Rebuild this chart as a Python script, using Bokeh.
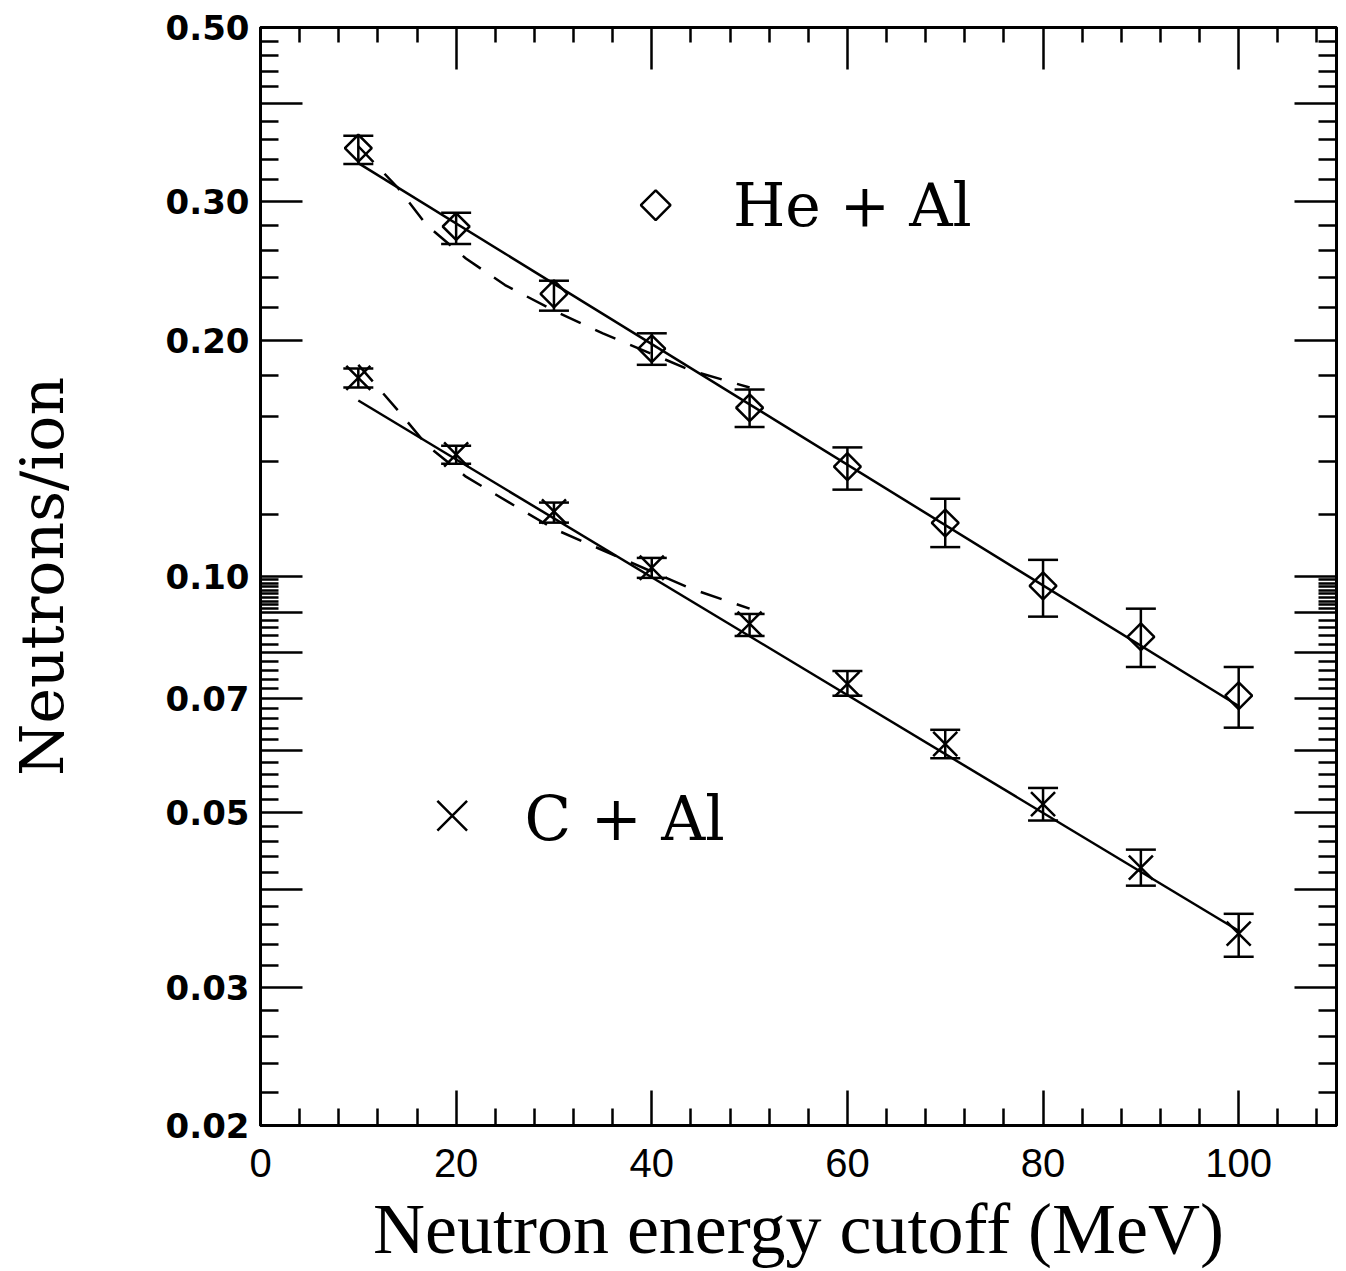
import numpy as np
from bokeh.plotting import figure
from bokeh.models import (FixedTicker, LinearAxis, LogAxis, Range1d, Whisker,
                          TeeHead, ColumnDataSource, Label)
from bokeh.embed import file_html
from bokeh.resources import INLINE

# ---------------- data ----------------
energy_cutoff = [10, 20, 30, 40, 50, 60, 70, 80, 90, 100]

he_al = [0.351, 0.279, 0.229, 0.195, 0.164, 0.138, 0.117, 0.0973, 0.0838, 0.0705]
he_al_hi = [0.364, 0.2905, 0.238, 0.204, 0.173, 0.146, 0.1256, 0.105, 0.091, 0.0767]
he_al_lo = [0.335, 0.265, 0.218, 0.186, 0.155, 0.129, 0.109, 0.0889, 0.0767, 0.0642]

c_al = [0.179, 0.143, 0.121, 0.1026, 0.0871, 0.073, 0.0612, 0.0513, 0.0426, 0.0351]
c_al_hi = [0.184, 0.1467, 0.1242, 0.1056, 0.0896, 0.0758, 0.0638, 0.0538, 0.0449, 0.0372]
c_al_lo = [0.174, 0.1392, 0.1171, 0.0996, 0.0840, 0.0705, 0.0587, 0.0489, 0.0404, 0.0328]

# exponential fits (solid lines)
fit_x = [10, 100]
he_fit = [0.336, 0.0684]
c_fit = [0.1675, 0.0354]

# model curves (dashed lines)
he_dash_x = [10, 14, 17, 21, 25, 30, 35, 44, 50]
he_dash_y = [0.353, 0.313, 0.280, 0.254, 0.235, 0.218, 0.204, 0.183, 0.174]
c_dash_x = [10, 14, 17, 21, 26, 30, 35, 44, 50]
c_dash_y = [0.186, 0.163, 0.147, 0.134, 0.123, 0.115, 0.108, 0.0965, 0.091]

# axis ticks
y_major = [0.02, 0.03, 0.04, 0.05, 0.06, 0.07, 0.08, 0.09, 0.1, 0.2, 0.3, 0.4, 0.5]
y_labels = {0.02: "0.02", 0.03: "0.03", 0.05: "0.05", 0.07: "0.07",
            0.1: "0.10", 0.2: "0.20", 0.3: "0.30", 0.5: "0.50"}
y_minor = ([0.022, 0.024, 0.026, 0.028, 0.032, 0.034, 0.036, 0.038,
            0.042, 0.044, 0.046, 0.048,
            0.052, 0.054, 0.056, 0.058, 0.062, 0.064, 0.066, 0.068,
            0.072, 0.074, 0.076, 0.078, 0.082, 0.084, 0.086, 0.088,
            0.091, 0.092, 0.093, 0.094, 0.095, 0.096, 0.097, 0.098, 0.099,
            0.12, 0.14, 0.16, 0.18, 0.22, 0.24, 0.26, 0.28,
            0.32, 0.34, 0.36, 0.38, 0.42, 0.44, 0.46, 0.48])
x_major = [0, 20, 40, 60, 80, 100]
x_minor = [4, 8, 12, 16, 24, 28, 32, 36, 44, 48, 52, 56, 64, 68, 72, 76,
           84, 88, 92, 96, 104, 108]

# legend placement (layout constants)
LEG_HE_MARK = (40.4, 0.297)
LEG_HE_TEXT = (48.3, 0.297)
LEG_C_MARK = (19.6, 0.0496)
LEG_C_TEXT = (27.0, 0.0492)

# ---------------- figure ----------------
p = figure(x_range=Range1d(0, 110), y_range=Range1d(0.02, 0.5),
           y_axis_type="log", frame_width=1076, frame_height=1098,
           min_border_left=260, min_border_top=27, min_border_bottom=130,
           min_border_right=2, output_backend="svg", toolbar_location=None)
p.grid.visible = False
p.outline_line_color = "black"
p.outline_line_width = 3
p.background_fill_color = "white"
p.border_fill_color = "white"


def style(ax, major_in, minor_in):
    ax.axis_line_width = 3
    ax.axis_line_color = "black"
    ax.major_tick_line_width = 2.5
    ax.minor_tick_line_width = 2.5
    ax.major_tick_in = major_in
    ax.major_tick_out = 0
    ax.minor_tick_in = minor_in
    ax.minor_tick_out = 0
    ax.major_label_text_color = "black"
    ax.axis_label_text_color = "black"


# left axis
yl = p.yaxis[0]
yl.ticker = FixedTicker(ticks=y_major, minor_ticks=y_minor)
yl.major_label_overrides = {t: y_labels.get(t, "") for t in y_major}
style(yl, 42, 18)
yl.major_label_text_font = "DejaVu Sans"
yl.major_label_text_font_style = "bold"
yl.major_label_text_font_size = "34px"
yl.major_label_standoff = 11
yl.axis_label = "Neutrons/ion"
yl.axis_label_text_font = "DejaVu Serif"
yl.axis_label_text_font_style = "normal"
yl.axis_label_text_font_size = "60px"
yl.axis_label_standoff = 86

# bottom axis
xb = p.xaxis[0]
xb.ticker = FixedTicker(ticks=x_major, minor_ticks=x_minor)
style(xb, 35, 17)
xb.major_label_text_font = "Liberation Sans"
xb.major_label_text_font_size = "40px"
xb.major_label_standoff = 23
xb.axis_label = "Neutron energy cutoff (MeV)"
xb.axis_label_text_font = "Liberation Serif"
xb.axis_label_text_font_style = "normal"
xb.axis_label_text_font_size = "72px"
xb.axis_label_standoff = 9

# right axis
yr = LogAxis(ticker=FixedTicker(ticks=y_major, minor_ticks=y_minor))
yr.major_label_overrides = {t: "" for t in y_major}
style(yr, 42, 18)
p.add_layout(yr, "right")

# top axis
xt = LinearAxis(ticker=FixedTicker(ticks=x_major, minor_ticks=x_minor))
xt.major_label_overrides = {t: "" for t in x_major}
style(xt, 42, 15)
p.add_layout(xt, "above")

# ---------------- data glyphs ----------------
he_src = ColumnDataSource(dict(x=energy_cutoff, y=he_al, hi=he_al_hi, lo=he_al_lo))
c_src = ColumnDataSource(dict(x=energy_cutoff, y=c_al, hi=c_al_hi, lo=c_al_lo))

for src in (he_src, c_src):
    w = Whisker(source=src, base="x", upper="hi", lower="lo",
                line_color="black", line_width=2.5,
                upper_head=TeeHead(size=30, line_width=2.5, line_color="black"),
                lower_head=TeeHead(size=30, line_width=2.5, line_color="black"))
    p.add_layout(w)

p.line(fit_x, he_fit, line_color="black", line_width=2.5)
p.line(fit_x, c_fit, line_color="black", line_width=2.5)
p.line(he_dash_x, he_dash_y, line_color="black", line_width=2.5, line_dash="22 16")
p.line(c_dash_x, c_dash_y, line_color="black", line_width=2.5, line_dash="22 16")

p.scatter("x", "y", source=he_src, marker="square", angle=np.pi / 4, size=19,
          fill_color=None, line_color="black", line_width=2.5)
p.scatter("x", "y", source=c_src, marker="x", size=34,
          line_color="black", line_width=2.5)

# ---------------- legend ----------------
p.scatter([LEG_HE_MARK[0]], [LEG_HE_MARK[1]], marker="square", angle=np.pi / 4,
          size=21, fill_color=None, line_color="black", line_width=2.5)
p.scatter([LEG_C_MARK[0]], [LEG_C_MARK[1]], marker="x", size=42,
          line_color="black", line_width=2.5)
p.add_layout(Label(x=LEG_HE_TEXT[0], y=LEG_HE_TEXT[1], text="He + Al",
                   text_font="DejaVu Serif", text_font_size="60px",
                   text_baseline="middle", text_color="black"))
p.add_layout(Label(x=LEG_C_TEXT[0], y=LEG_C_TEXT[1], text="C + Al",
                   text_font="DejaVu Serif", text_font_size="61px",
                   text_baseline="middle", text_color="black"))

open("out.html", "w").write(file_html(p, INLINE))
